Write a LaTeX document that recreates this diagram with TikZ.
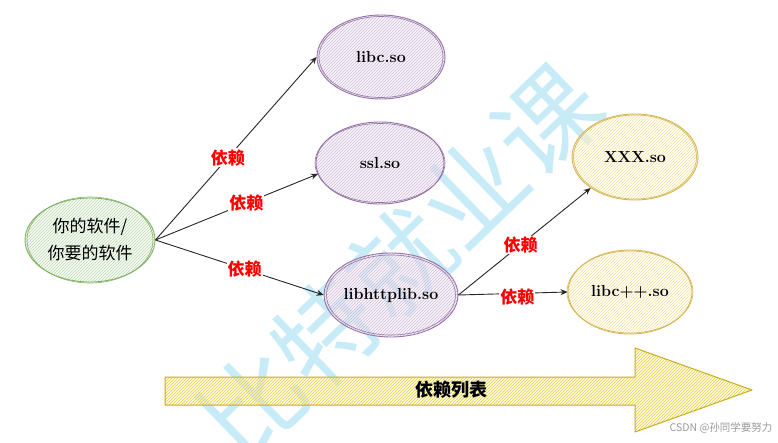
\documentclass[tikz,border=0pt]{standalone}
\usepackage{fontspec}
\newfontfamily\cjk{Noto Sans CJK SC}
\usetikzlibrary{shapes.geometric,patterns,arrows.meta}
\definecolor{purp}{HTML}{9673A6}
\definecolor{purpfill}{HTML}{F4F0F7}
\definecolor{purphatch}{HTML}{CDB9D8}
\definecolor{grn}{HTML}{82B366}
\definecolor{grnfill}{HTML}{F1F7EE}
\definecolor{grnhatch}{HTML}{BFDAB0}
\definecolor{ylw}{HTML}{D6B656}
\definecolor{ylwfill}{HTML}{FFFCEE}
\definecolor{ylwhatch}{HTML}{F2E2A6}
\definecolor{arrstroke}{HTML}{C9AD1E}
\definecolor{arrfill}{HTML}{FFF8C8}
\definecolor{arrhatch}{HTML}{E3CC45}
\definecolor{wmark}{HTML}{C8EBF8}
\begin{document}
\begin{tikzpicture}[x=1pt,y=-1pt,
  blob/.style={ellipse, inner sep=0pt, line width=0.9pt, font=\bfseries\fontsize{16}{18}\selectfont},
  purpblob/.style={blob, draw=purp, pattern=north east lines, pattern color=purphatch, preaction={fill=purpfill, fill opacity=0.5}},
  grnblob/.style={blob, draw=grn, pattern=north east lines, pattern color=grnhatch, preaction={fill=grnfill, fill opacity=0.5}},
  ylwblob/.style={blob, draw=ylw, pattern=north east lines, pattern color=ylwhatch, preaction={fill=ylwfill, fill opacity=0.5}},
  sketch/.style={line width=0.6pt},
  dep/.style={draw=black!85, line width=0.9pt, -{Stealth[length=7pt,width=6pt]}},
  lbl/.style={fill=white, inner sep=1pt, text=red, font=\cjk\bfseries\fontsize{17}{19}\selectfont}
]
\useasboundingbox (0,0) rectangle (778,442);

% watermark (behind)
\node[rotate=44, text=wmark, font=\cjk\fontsize{102}{102}\selectfont] (wm) at (400,262) {比特就业课};

% ellipses
\node[grnblob, minimum width=130pt, minimum height=84pt, align=center,
      font=\cjk\fontsize{17}{27}\selectfont] (soft) at (90,240) {你的软件/\\你要的软件};
\draw[grn, sketch] (soft.center) ellipse [x radius=63, y radius=43];

\node[purpblob, minimum width=128pt, minimum height=84pt] (libc) at (381,57) {libc.so};
\draw[purp, sketch] (libc.center) ellipse [x radius=62, y radius=40.5];

\node[purpblob, minimum width=128pt, minimum height=82pt] (ssl) at (380,163) {ssl.so};
\draw[purp, sketch] (ssl.center) ellipse [x radius=65, y radius=39.5];

\node[purpblob, minimum width=126pt, minimum height=84pt] (libh) at (391,295) {libhttplib.so};
\draw[purp, sketch] (libh.center) ellipse [x radius=64.5, y radius=40];

\node[ylwblob, minimum width=126pt, minimum height=86pt] (xxx) at (635,157) {XXX.so};
\draw[ylw, sketch] (xxx.center) ellipse [x radius=61.5, y radius=42];

\node[ylwblob, minimum width=124pt, minimum height=84pt] (libcpp) at (630,292) {libc++.so};
\draw[ylw, sketch] (libcpp.center) ellipse [x radius=63, y radius=41];

% connectors
\draw[dep] (soft.east) -- node[lbl, pos=0.45] (l1) {依赖} (libc.west);
\draw[dep] (soft.east) -- node[lbl, pos=0.56] (l2) {依赖} (ssl.190);
\draw[dep] (soft.east) -- node[lbl, pos=0.53] (l3) {依赖} (libh.west);
\draw[dep] (libh.east) -- node[lbl, pos=0.47] (l4) {依赖} (xxx.215);
\draw[dep] (libh.east) -- node[lbl, pos=0.54, yshift=-4pt] (l5) {依赖} (libcpp.west);

% big arrow
\path[draw=arrstroke, line width=1pt, line join=round, pattern=north east lines, pattern color=arrhatch, preaction={fill=arrfill, fill opacity=0.5}]
  (165,377) -- (635,377) -- (635,348) -- (752,390) -- (635,432) -- (635,405) -- (165,405) -- cycle;
\node[font=\cjk\bfseries\fontsize{18}{20}\selectfont] (deplist) at (451,390) {依赖列表};

\node[text=black!40, font=\cjk\fontsize{10.5}{12}\selectfont, anchor=east] (csdn) at (776,428) {CSDN @孙同学要努力};
\end{tikzpicture}
\end{document}
